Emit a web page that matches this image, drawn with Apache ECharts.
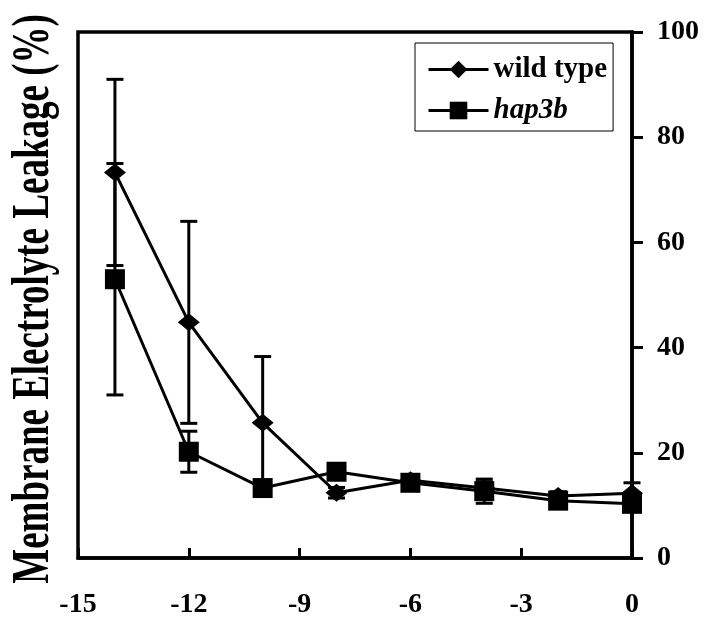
<!DOCTYPE html>
<html>
<head>
<meta charset="utf-8">
<script src="https://cdn.jsdelivr.net/npm/echarts@6/dist/echarts.min.js"></script>
<style>
html,body{margin:0;padding:0;background:#fff;}
#chart{width:705px;height:621px;}
</style>
</head>
<body>
<div id="chart"></div>
<script>
var xValues = [-14, -12, -10, -8, -6, -4, -2, 0];
var wildTypeMean = [73.3, 44.8, 25.7, 12.4, 14.8, 13.3, 11.8, 12.3];
var wildTypeErr  = [17.7, 19.2, 12.6, 1.0, 1.0, 1.2, 0.8, 2.0];
var hap3bMean    = [53.0, 20.2, 13.3, 16.4, 14.3, 12.7, 10.9, 10.3];
var hap3bErr     = [22.0, 3.9, 1.0, 1.0, 1.0, 2.3, 0.8, 1.0];
var xTicks = [-15, -12, -9, -6, -3, 0];
var yTicks = [0, 20, 40, 60, 80, 100];
var yTitle = 'Membrane Electrolyte Leakage (%)';
var seriesNames = ['wild type', 'hap3b'];

var FONT = '"Liberation Serif","Times New Roman",serif';

function pairs(xs, ys) { return xs.map(function (x, i) { return [x, ys[i]]; }); }
function triples(xs, ys, es) { return xs.map(function (x, i) { return [x, ys[i], es[i]]; }); }

function errRender(params, api) {
  var x = api.value(0), m = api.value(1), e = api.value(2);
  var top = api.coord([x, m + e]);
  var bot = api.coord([x, m - e]);
  var hw = 8.5;
  var st = { stroke: '#000', lineWidth: 3 };
  return {
    type: 'group',
    children: [
      { type: 'line', shape: { x1: top[0], y1: top[1], x2: bot[0], y2: bot[1] }, style: st },
      { type: 'line', shape: { x1: top[0] - hw, y1: top[1], x2: top[0] + hw, y2: top[1] }, style: st },
      { type: 'line', shape: { x1: bot[0] - hw, y1: bot[1], x2: bot[0] + hw, y2: bot[1] }, style: st }
    ]
  };
}

var chart = echarts.init(document.getElementById('chart'), null, { renderer: 'canvas' });
chart.setOption({
  animation: false,
  backgroundColor: '#fff',
  grid: { left: 78, right: 73, top: 32, bottom: 63, show: true, borderColor: '#000', borderWidth: 3.5, backgroundColor: 'transparent' },
  xAxis: {
    type: 'value', min: xTicks[0], max: xTicks[xTicks.length - 1], interval: 3,
    axisLine: { show: true, lineStyle: { color: '#000', width: 3.5 } },
    axisTick: { show: true, inside: true, length: 10, lineStyle: { color: '#000', width: 3 } },
    axisLabel: { margin: 33, color: '#000', fontFamily: FONT, fontWeight: 'bold', fontSize: 28 },
    splitLine: { show: false }
  },
  yAxis: {
    type: 'value', position: 'right', min: yTicks[0], max: yTicks[yTicks.length - 1], interval: 20,
    axisLine: { show: true, lineStyle: { color: '#000', width: 3.5 } },
    axisTick: { show: true, inside: false, length: 11, lineStyle: { color: '#000', width: 3 } },
    axisLabel: { margin: 25, color: '#000', fontFamily: FONT, fontWeight: 'bold', fontSize: 28 },
    splitLine: { show: false }
  },
  legend: {
    orient: 'vertical', left: 415, top: 43,
    padding: [12, 6, 6, 12], itemGap: 12,
    itemWidth: 60, itemHeight: 22,
    borderColor: '#000', borderWidth: 1,
    backgroundColor: '#fff',
    lineStyle: { width: 3, color: '#000' },
    textStyle: { color: '#000', fontFamily: FONT, fontWeight: 'bold', fontSize: 29 },
    data: [
      { name: seriesNames[0] },
      { name: seriesNames[1], textStyle: { fontStyle: 'italic' } }
    ]
  },
  graphic: [{
    type: 'text', x: 34.5, y: 299, rotation: Math.PI / 2, scaleX: 1, scaleY: 1.4,
    style: { text: yTitle, fill: '#000', font: 'bold 37px ' + FONT, align: 'center', verticalAlign: 'middle' }
  }],
  series: [
    { name: 'wt-err', type: 'custom', renderItem: errRender, data: triples(xValues, wildTypeMean, wildTypeErr), encode: { x: 0, y: 1 }, z: 1, silent: true },
    { name: 'hap-err', type: 'custom', renderItem: errRender, data: triples(xValues, hap3bMean, hap3bErr), encode: { x: 0, y: 1 }, z: 1, silent: true },
    {
      name: seriesNames[0], type: 'line', data: pairs(xValues, wildTypeMean),
      symbol: 'diamond', symbolSize: [22, 18], showAllSymbol: true,
      lineStyle: { color: '#000', width: 3 }, itemStyle: { color: '#000', borderWidth: 0 }, z: 3
    },
    {
      name: seriesNames[1], type: 'line', data: pairs(xValues, hap3bMean),
      symbol: 'rect', symbolSize: [20, 20], showAllSymbol: true,
      lineStyle: { color: '#000', width: 3 }, itemStyle: { color: '#000', borderWidth: 0 }, z: 3
    }
  ]
});
</script>
</body>
</html>
